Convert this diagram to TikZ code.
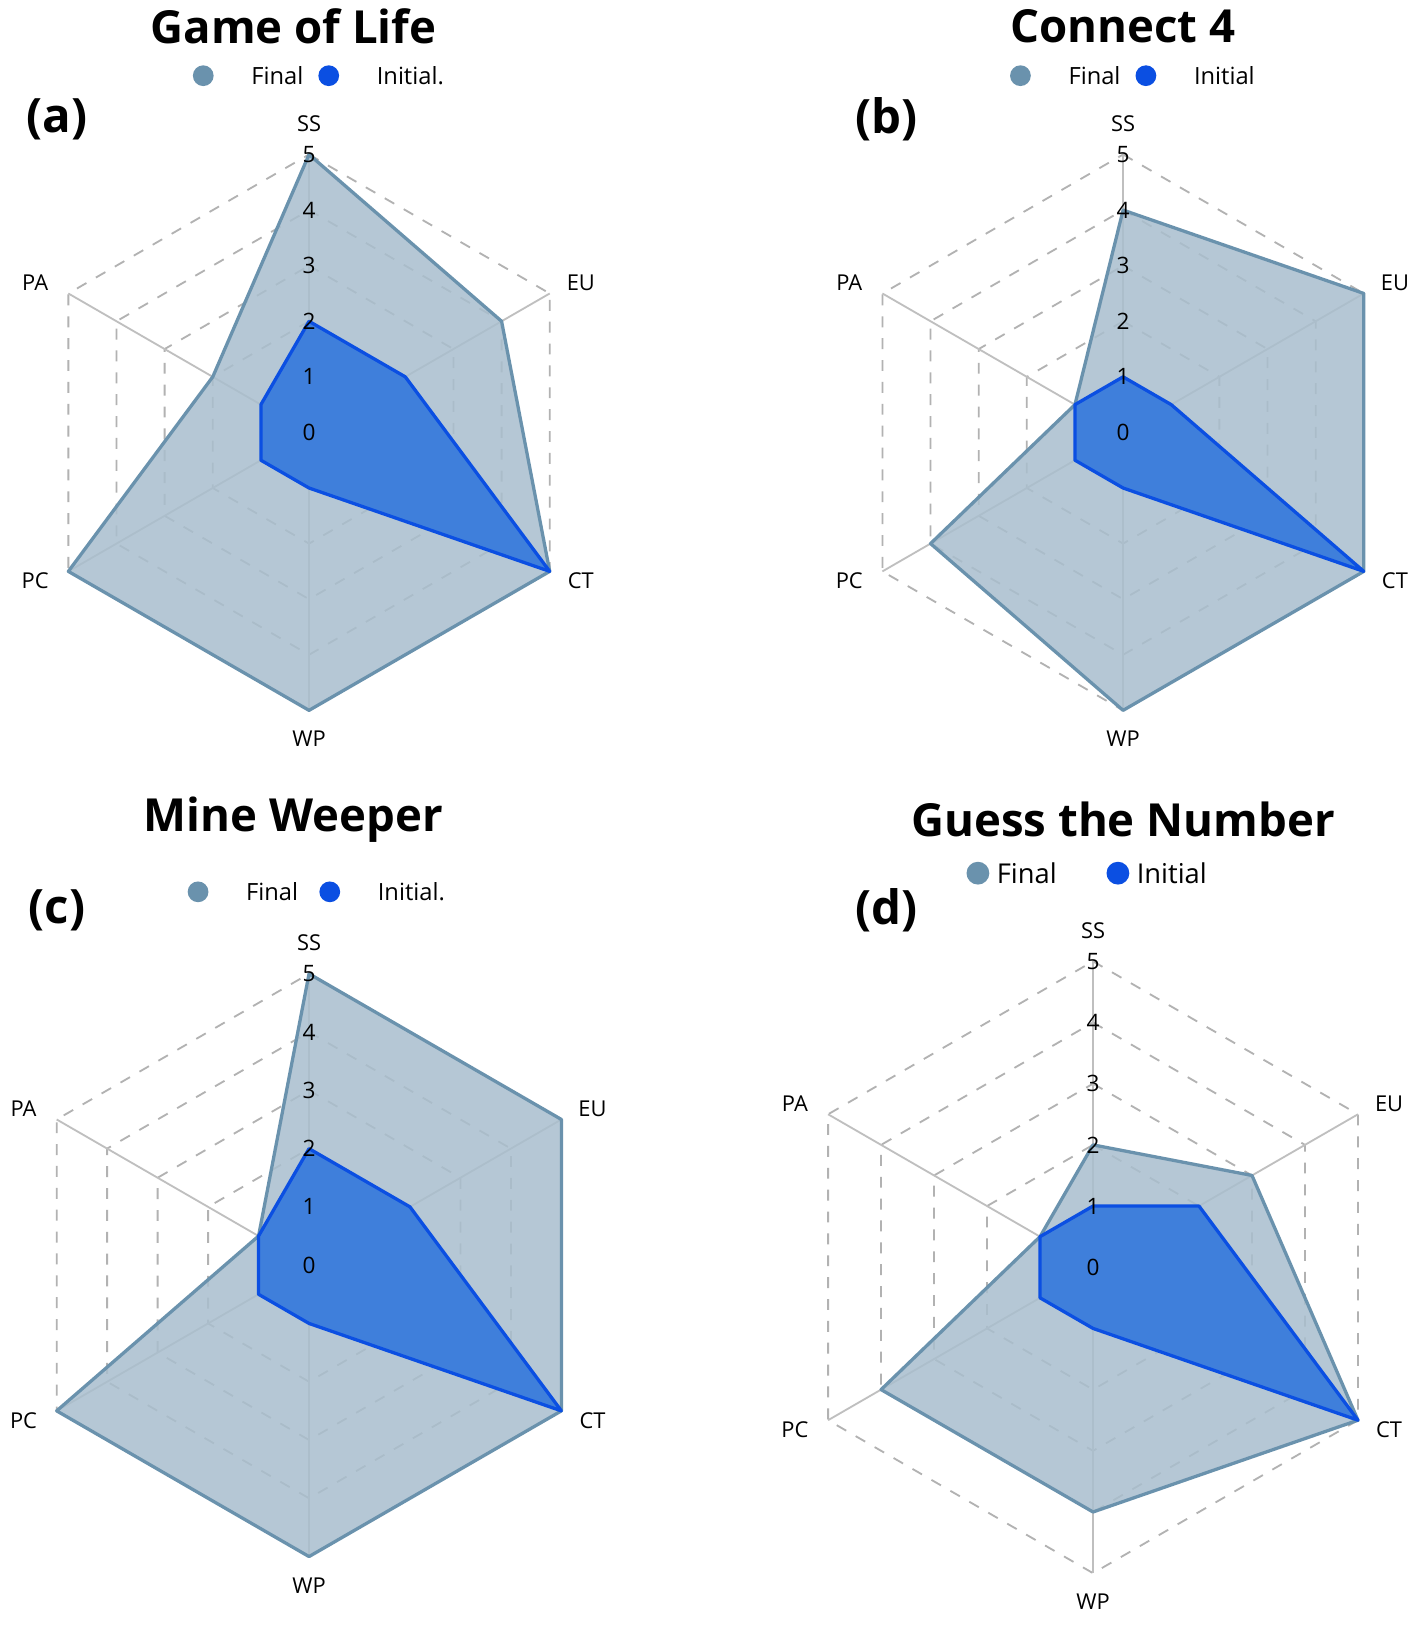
\documentclass[tikz,border=0pt]{standalone}
\usepackage{fontspec}
\setmainfont{Open Sans}
\definecolor{finfill}{HTML}{A9BECE}
\definecolor{finline}{HTML}{6A92AD}
\definecolor{inifill}{HTML}{3F7FDB}
\definecolor{iniline}{HTML}{0B4FE2}
\tikzset{
 griddash/.style={draw=black!30,dashed,line width=0.5pt},
 axisline/.style={draw=black!25,line width=0.5pt},
 finalpoly/.style={draw=finline,fill=finfill,fill opacity=0.85,line width=0.9pt,line join=round},
 initpoly/.style={draw=iniline,fill=inifill,line width=0.9pt,line join=round},
 axlab/.style={font=\fontsize{6}{7}\selectfont,inner sep=1pt},
 lvl/.style={font=\fontsize{6.2}{7}\selectfont,inner sep=0pt},
 ttl/.style={font=\fontsize{12.5}{14}\selectfont\bfseries},
 pan/.style={font=\fontsize{13}{14}\selectfont\bfseries},
 leg/.style={font=\fontsize{6.5}{8}\selectfont,anchor=west,inner sep=1pt},
}
\newcommand\radarchart[5]{%
\begin{scope}[shift={(#1,#2)},y=0.1mm]
\pgfmathsetmacro\u{#3/5}
\foreach \k in {1,...,5}{\draw[griddash] (90:\k*\u) -- (30:\k*\u) -- (-30:\k*\u) -- (-90:\k*\u) -- (-150:\k*\u) -- (150:\k*\u) -- cycle;}
\foreach \a in {90,30,-30,-90,-150,150}{\draw[axisline] (0,0) -- (\a:#3);}
\path \foreach \v [count=\i] in {#4}{ coordinate (f\i) at ({150-60*\i}:{\v*\u}) };
\draw[finalpoly] (f1)--(f2)--(f3)--(f4)--(f5)--(f6)--cycle;
\path \foreach \v [count=\i] in {#5}{ coordinate (g\i) at ({150-60*\i}:{\v*\u}) };
\draw[initpoly] (g1)--(g2)--(g3)--(g4)--(g5)--(g6)--cycle;
\foreach \k in {0,...,5}{\node[lvl] at (0,\k*\u) {\k};}
\node[axlab,anchor=south] at (0,#3+18) {SS};
\node[axlab] at ([shift={(30,10)}]30:#3) {EU};
\node[axlab] at ([shift={(30,-9)}]-30:#3) {CT};
\node[axlab,anchor=north] at (0,-#3-16) {WP};
\node[axlab] at ([shift={(-32,-9)}]-150:#3) {PC};
\node[axlab] at ([shift={(-32,10)}]150:#3) {PA};
\end{scope}}
\newcommand\legendpair[5]{%
\fill[finline] (#1,#3) circle (10);
\node[leg] at ([xshift=12]#1,#3) {Final};
\fill[iniline] (#2,#3) circle (10);
\node[leg] at ([xshift=12]#2,#3) {#4};}
\begin{document}
\begin{tikzpicture}[x=0.1mm,y=-0.1mm]
\useasboundingbox[fill=white] (0,0) rectangle (1366,1567);
\radarchart{298}{417}{268}{5,4,5,5,5,2}{2,2,5,1,1,1}
\radarchart{1083}{417}{268}{4,5,5,5,4,1}{1,1,5,1,1,1}
\radarchart{298}{1220}{281}{5,5,5,5,5,1}{2,2,5,1,1,1}
\radarchart{1054}{1222}{295}{2,3,5,4,4,1}{1,2,5,1,1,1}
\node[ttl] at (283,25) {Game of Life};
\node[ttl] at (1083,25) {Connect 4};
\node[ttl] at (283,790) {Mine Weeper};
\node[ttl] at (1083,790) {Guess the Number};
\node[pan] at (55,115) {(a)};
\node[pan] at (855,115) {(b)};
\node[pan] at (55,878) {(c)};
\node[pan] at (855,878) {(d)};
\legendpair{196}{317}{73}{Initial.}{}
\legendpair{984}{1105}{73}{Initial}{}
\legendpair{191}{318}{860}{Initial.}{}
\begin{scope}[leg/.append style={font=\fontsize{7.5}{9}\selectfont}]
\fill[finline] (943,842) circle (11);
\node[leg] at (957,842) {Final};
\fill[iniline] (1078,842) circle (11);
\node[leg] at (1092,842) {Initial};
\end{scope}
\end{tikzpicture}
\end{document}
